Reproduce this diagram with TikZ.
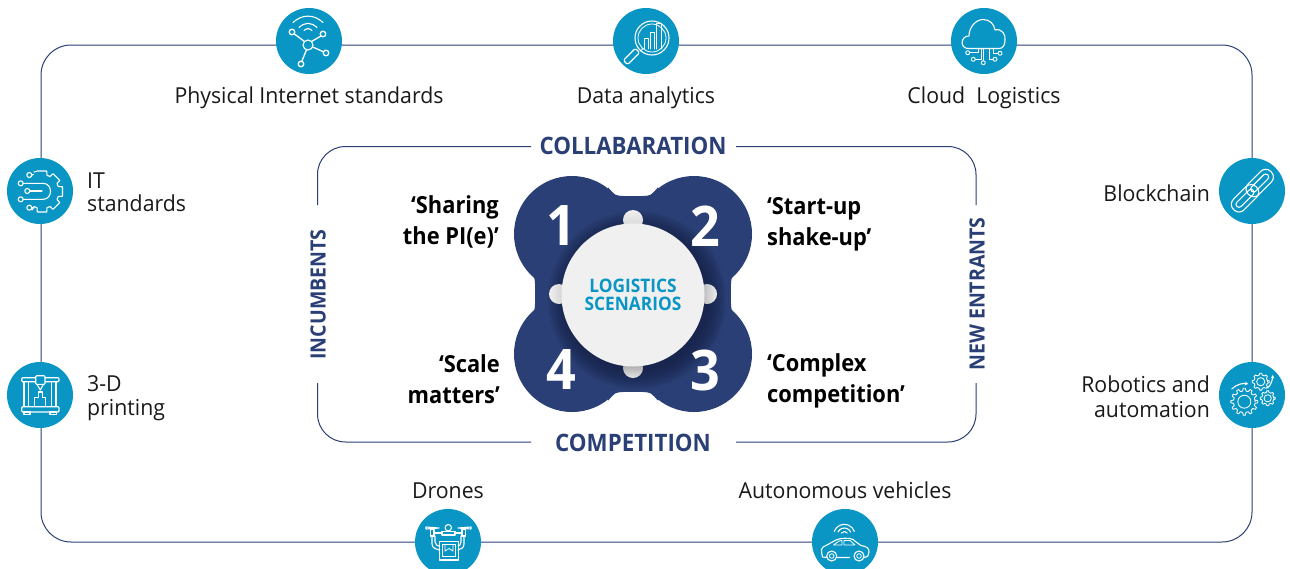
\documentclass[tikz,border=0pt]{standalone}
\usepackage{fontspec}
\setmainfont[FakeStretch=0.93]{Open Sans}
\newfontfamily\lblf[FakeStretch=0.967]{Open Sans}
\usetikzlibrary{arrows.meta}
\definecolor{navy}{HTML}{2A3F75}
\definecolor{navydark}{HTML}{141E40}
\definecolor{iconblue}{HTML}{0A96C4}
\definecolor{hubgrey}{HTML}{F0F0F1}
\tikzset{
  frameline/.style={draw=navy,line width=1pt,rounded corners=28pt},
  disc/.style={circle,fill=iconblue,draw=none,minimum size=66pt,inner sep=0pt},
  ic/.style={draw=white,line width=1.1pt,fill=none,line cap=round,line join=round},
  lbl/.style={font=\lblf\fontsize{22}{24.5}\selectfont,text=black!90,inner sep=0pt,align=left},
  lblr/.style={lbl,align=right},
  lblc/.style={lbl,align=center},
  scen/.style={font=\bfseries\fontsize{23.5}{31}\selectfont,text=black,inner sep=0pt},
  axis/.style={font=\bfseries\fontsize{24}{26}\selectfont,text=navy,inner sep=0pt},
  axisv/.style={font=\bfseries\fontsize{21}{26}\selectfont,text=navy,inner sep=0pt,rotate=90},
  numeral/.style={font=\bfseries\fontsize{56}{56}\selectfont,text=white,inner sep=0pt},
}
\newcommand\GearAt[4]{%
  \begin{scope}[shift={(#1,#2)}]
    \pgfmathsetmacro\gstep{360/#4}
    \draw[ic,line width=0.85pt] (0:{#3*.8}) \foreach \i [evaluate=\i as \a using (\i-1)*\gstep] in {1,...,#4}{
       -- ({\a-.3*\gstep}:{#3*.8}) -- ({\a-.15*\gstep}:{#3}) -- ({\a+.15*\gstep}:{#3}) -- ({\a+.3*\gstep}:{#3*.8})
    } -- cycle;
    \draw[ic,line width=0.85pt] (0,0) circle ({#3*.48});
  \end{scope}}
\begin{document}
\begin{tikzpicture}[x=1pt,y=-1pt]
\useasboundingbox (0,0) rectangle (1290,568);
\clip (0,0) rectangle (1290,568);
\fill[white] (0,0) rectangle (1290,568);

% outer frame
\draw[frameline,rounded corners=30pt] (41,45) rectangle (1252,542);

% inner frame, in four pieces round the four axis labels
\draw[frameline] (531,146.5) -- (317.5,146.5) -- (317.5,205);
\draw[frameline] (736,146.5) -- (976,146.5) -- (976,205);
\draw[frameline] (531,442) -- (317.5,442) -- (317.5,383);
\draw[frameline] (736,442) -- (976,442) -- (976,383);

\node[axis] (collab) at (633,146) {COLLABARATION};
\node[axis] (compet) at (633,443) {COMPETITION};
\node[axisv] (incumb) at (318,294.5) {INCUMBENTS};
\node[axisv] (newent) at (977,294) {NEW ENTRANTS};

% clover
\begin{scope}[shift={(633,294)}]
  \fill[navy] (-61,-60) circle (58) (61,-60) circle (58) (61,60) circle (58) (-61,60) circle (58);
  \fill[navy] (-98,-98) rectangle (98,98);
  \foreach \sx in {1,-1}\foreach \sy in {1,-1}{
    \begin{scope}[xscale=\sx,yscale=\sy]
      \fill[navy] (-25,-106.7) .. controls (-18,-98.5) .. (-10,-98) -- (-25,-90) -- cycle;
      \fill[navy] (-106.7,-25) .. controls (-98.5,-18) .. (-98,-10) -- (-90,-25) -- cycle;
    \end{scope}}
\end{scope}
% soft shadow of the hub, as a stack of faint discs
\foreach \r in {89,87,...,71} \fill[navydark,opacity=.11] (637,300) circle (\r);
\shade[top color=white!94!black,bottom color=black!18] (633,220) circle (10);
\shade[left color=white!94!black,right color=black!22] (559,294) circle (10);
\shade[left color=black!35,right color=white!94!black] (707,294) circle (10);
\shade[top color=black!45,bottom color=black!10] (633,368) circle (10);
\node[circle,fill=hubgrey,minimum size=143pt,inner sep=0pt,align=center,text=iconblue,
      font=\bfseries\fontsize{18.6}{18.5}\selectfont] (hub) at (633,295) {LOGISTICS\\SCENARIOS};

\node[numeral] (n1) at (561,226) {1};
\node[numeral] (n2) at (705,226) {2};
\node[numeral] (n3) at (705,370) {3};
\node[numeral] (n4) at (561,370) {4};

\node[scen,align=right,anchor=east] (s1) at (499,222) {‘Sharing\\the PI(e)’};
\node[scen,align=left,anchor=west]  (s2) at (767,224) {‘Start-up\\shake-up’};
\node[scen,align=left,anchor=west]  (s3) at (767,381) {‘Complex\\competition’};
\node[scen,align=right,anchor=east] (s4) at (500,379) {‘Scale\\matters’};

% icon discs
\node[disc] (phys)  at (309,41) {};
\node[disc] (data)  at (646,41) {};
\node[disc] (cloud) at (984,41) {};
\node[disc] (its)   at (40,191) {};
\node[disc] (print) at (40,395) {};
\node[disc] (chain) at (1252,191) {};
\node[disc] (robot) at (1252,395) {};
\node[disc] (drone) at (448,542) {};
\node[disc] (auto)  at (845,542) {};

% labels
\node[lblc,anchor=base] (lphys) at (309,103) {Physical Internet standards};
\node[lblc,anchor=base] (ldata) at (646,103) {Data analytics};
\node[lblc,anchor=base] (lcloud) at (984,103) {Cloud\ \ Logistics};
\node[lbl,anchor=west,font=\lblf\fontsize{22}{23}\selectfont] (lits) at (87,192.5) {IT\\standards};
\node[lbl,anchor=west,font=\lblf\fontsize{22}{24}\selectfont] (lprint) at (87,398.5) {3-D\\printing};
\node[lblr,anchor=base east] (lchain) at (1210,201) {Blockchain};
\node[lblr,anchor=east] (lrobot) at (1210,396.5) {Robotics and\\automation};
\node[lblc,anchor=base] (ldrone) at (448,498) {Drones};
\node[lblc,anchor=base] (lauto) at (845,498) {Autonomous vehicles};

% network icon
\begin{scope}[shift={(phys.center)}]
  \draw[ic] (-1,4) circle (5);
  \foreach \p in {(-17,-9),(14,-7),(17,12),(-8,23)} \draw[ic,line width=1.3pt] \p circle (2.8);
  \draw[ic,line width=1.3pt] (-4.5,0.5) -- (-14.8,-7.2);
  \draw[ic,line width=1.3pt] (2.5,0.5) -- (12,-5);
  \draw[ic,line width=1.3pt] (3.7,6) -- (14.5,10.8);
  \draw[ic,line width=1.3pt] (-2.5,8.8) -- (-7.2,20.3);
  \draw[ic] (-5,-10.5) .. controls (-2,-13) and (0,-13) .. (3,-10.5);
  \draw[ic] (-10,-13.5) .. controls (-4,-19) and (2,-19) .. (8,-13.5);
  \draw[ic] (-16,-18.5) .. controls (-7,-27) and (5,-27) .. (14,-18.5);
\end{scope}

% magnifier icon
\begin{scope}[shift={(data.center)}]
  \draw[ic] (6,-3) circle (17);
  \draw[ic,line width=0.8pt] (6,-3) circle (14);
  \begin{scope}[rotate around={45:(-14.5,15.5)}]
    \draw[ic,rounded corners=1.5pt] (-23,12.5) rectangle (-6,18.5);
  \end{scope}
  \draw[ic,line width=0.9pt] (-5.5,10) -- (-3,7.5);
  \draw[ic,line width=0.9pt] (-2,8) -- (-2,-3) -- (2,-3) -- (2,8);
  \draw[ic,line width=0.9pt] (4,8) -- (4,-9) -- (8,-9) -- (8,8);
  \draw[ic,line width=0.9pt] (10,8) -- (10,-18) -- (15,-18) -- (15,8);
\end{scope}

% cloud icon
\begin{scope}[shift={(cloud.center)}]
  \draw[ic] (-16,7.5) .. controls (-24,7.5) and (-24,-5) .. (-15,-5)
     .. controls (-15,-14) and (-8,-21.5) .. (-1,-21.5)
     .. controls (6,-21.5) and (10,-17) .. (11,-11)
     .. controls (18,-13) and (22,-6) .. (21,-1)
     .. controls (21,4) and (19,7.5) .. (15,7.5) -- cycle;
  \foreach \p in {(-16.3,11.7),(-10.7,18.3),(-0.7,21.7),(11,18.3),(16,12.3)} \draw[ic,line width=.9pt] \p circle (2);
  \draw[ic,line width=.9pt] (-6,7.5) -- (-6,11.7) -- (-14.3,11.7);
  \draw[ic,line width=.9pt] (-3,7.5) -- (-3,18.3) -- (-8.7,18.3);
  \draw[ic,line width=.9pt] (-0.7,7.5) -- (-0.7,19.7);
  \draw[ic,line width=.9pt] (5,7.5) -- (5,18.3) -- (9,18.3);
  \draw[ic,line width=.9pt] (9,7.5) -- (9,12.3) -- (14,12.3);
\end{scope}

% gear with circuit icon
\begin{scope}[shift={(its.center)}]
  \begin{scope}[shift={(2,0.5)}]
    \draw[ic] (-112:21) \foreach \a in {-90,-45,0,45,90}{
      -- ({\a-13}:21) -- ({\a+13}:21) -- ({\a+17}:17) -- ({\a+28}:17)
    } -- (118:21) -- (118:21);
  \end{scope}
  \foreach \p in {(-10.7,-16),(-19.3,-7.7),(-12.7,0),(-19.3,8.3),(-10.7,16.7)} \draw[ic] \p circle (2.5);
  \draw[ic] (-8.2,-16) -- (-6.5,-16.5);
  \draw[ic] (-8.2,16.7) -- (-6,17);
  \draw[ic] (-16.8,-7.7) -- (3,-7.7) .. controls (13,-7.7) and (13,8.3) .. (3,8.3) -- (-16.8,8.3);
  \draw[ic] (-10.2,0) -- (2,0) ;
\end{scope}

% 3-D printer icon
\begin{scope}[shift={(print.center)}]
  \draw[ic,rounded corners=1pt] (-18.3,-17.3) rectangle (19,-13.3);
  \draw[ic] (-16,-13.3) rectangle (-11.7,11.7);
  \draw[ic] (11.7,-13.3) rectangle (16,11.7);
  \draw[ic,rounded corners=1pt] (-18.3,11.7) rectangle (19,17);
  \draw[ic] (-16,17) rectangle (-10,19.7);
  \draw[ic] (10,17) rectangle (16.7,19.7);
  \draw[ic,fill=iconblue,rounded corners=1pt] (-4.3,-19.3) rectangle (5,-10.7);
  \draw[ic] (-3,-10.7) -- (0.3,-5) -- (3.5,-10.7);
  \draw[ic] (-5.7,11.7) -- (-5.7,2.7) -- (-1.7,2.7) -- (-1.7,-3) -- (2.7,-3) -- (2.7,2.7) -- (5.7,2.7) -- (5.7,11.7);
\end{scope}

% chain icon
\begin{scope}[shift={(chain.center)}]
  \begin{scope}[shift={(-7,7.3)},rotate=45]
    \draw[ic,rounded corners=7pt] (-16,-7.5) rectangle (16,7.5);
    \draw[ic,rounded corners=3pt] (-11.5,-3) rectangle (11.5,3);
  \end{scope}
  \begin{scope}[shift={(7.7,-8)},rotate=45]
    \draw[ic,rounded corners=7pt] (-16,-7.5) rectangle (16,7.5);
    \draw[ic,rounded corners=3pt] (-11.5,-3) rectangle (11.5,3);
  \end{scope}
\end{scope}

% gears icon
\begin{scope}[shift={(robot.center)}]
  \GearAt{-7.7}{6.7}{13.5}{12}
  \GearAt{8.7}{-13.3}{8.5}{8}
  \GearAt{15.7}{3.3}{7.5}{8}
  \draw[ic,-{Stealth[length=3.5pt,width=3.5pt]}] (-20.3,-6) .. controls (-15,-11) and (-9,-12) .. (-3.7,-11);
  \draw[ic,-{Stealth[length=3.5pt,width=3.5pt]}] (15.5,-7) .. controls (19,-10) and (20.5,-15) .. (20.7,-20);
\end{scope}

% drone icon
\begin{scope}[shift={(drone.center)}]
  \draw[ic] (0.3,-14.3) circle (3.2);
  \draw[ic] (-6,-10.5) -- (7,-10.5) -- (7,-7) -- (-6,-7) -- cycle;
  \draw[ic] (-6,-9) -- (-14,-9) (7,-9) -- (14,-9);
  \draw[ic] (-22,-15) -- (-9,-14) -- (-22,-13) -- cycle;
  \draw[ic] (23,-15) -- (10,-14) -- (23,-13) -- cycle;
  \draw[ic] (-17.5,-12.5) rectangle (-14,-6);
  \draw[ic] (14,-12.5) rectangle (17.5,-6);
  \draw[ic] (-16,-6) -- (-16,2) .. controls (-16,6) and (-12,7) .. (-9,8);
  \draw[ic] (-13,-6) -- (-13,0) .. controls (-13,3) and (-10,4) .. (-9,4);
  \draw[ic] (16,-6) -- (16,2) .. controls (16,6) and (13,7) .. (10,8);
  \draw[ic] (13,-6) -- (13,0) .. controls (13,3) and (11,4) .. (10,4);
  \draw[ic] (-8.7,-0.5) rectangle (10.3,18);
  \draw[ic,line width=.8pt] (-5.5,2.5) rectangle (7.5,14.5);
  \draw[ic,line width=.8pt] (-3,2.5) -- (-3,9) -- (1,6.5) -- (5,9) -- (5,2.5);
\end{scope}

% car icon
\begin{scope}[shift={(auto.center)}]
  \draw[ic] (-22.5,15) .. controls (-24,8) and (-24,6) .. (-22,5) .. controls (-15,1.5) and (-13,0) .. (-9,-2)
     .. controls (-5,-4) and (5,-4.5) .. (8,-2.5) .. controls (11,-0.5) and (13,2) .. (16,3.5)
     .. controls (22,4.5) and (24,6) .. (24,10) .. controls (24,13) and (23,15) .. (19,15.5)
     -- (14,15.5) (4.5,15.5) -- (-8,15.5) (-18,15.5) -- (-22.5,15);
  \draw[ic,fill=iconblue] (-13.3,14) circle (5);
  \draw[ic,line width=.8pt] (-13.3,14) circle (2.3);
  \draw[ic,fill=iconblue] (14,14) circle (5);
  \draw[ic,line width=.8pt] (14,14) circle (2.3);
  \draw[ic,line width=.8pt] (-11.5,3) -- (-6,-1) -- (-3,-1.5) -- (-3,3) -- cycle;
  \draw[ic,line width=.8pt] (-1,-1.5) -- (5,-1.5) -- (10,3) -- (-1,3) -- cycle;
  \draw[ic] (-0.7,-7) ++(215:3.5) arc[start angle=215,end angle=325,radius=3.5];
  \draw[ic] (-0.7,-7) ++(205:7) arc[start angle=205,end angle=335,radius=7];
  \draw[ic] (-0.7,-7) ++(200:10.7) arc[start angle=200,end angle=340,radius=10.7];
\end{scope}
\end{tikzpicture}
\end{document}
